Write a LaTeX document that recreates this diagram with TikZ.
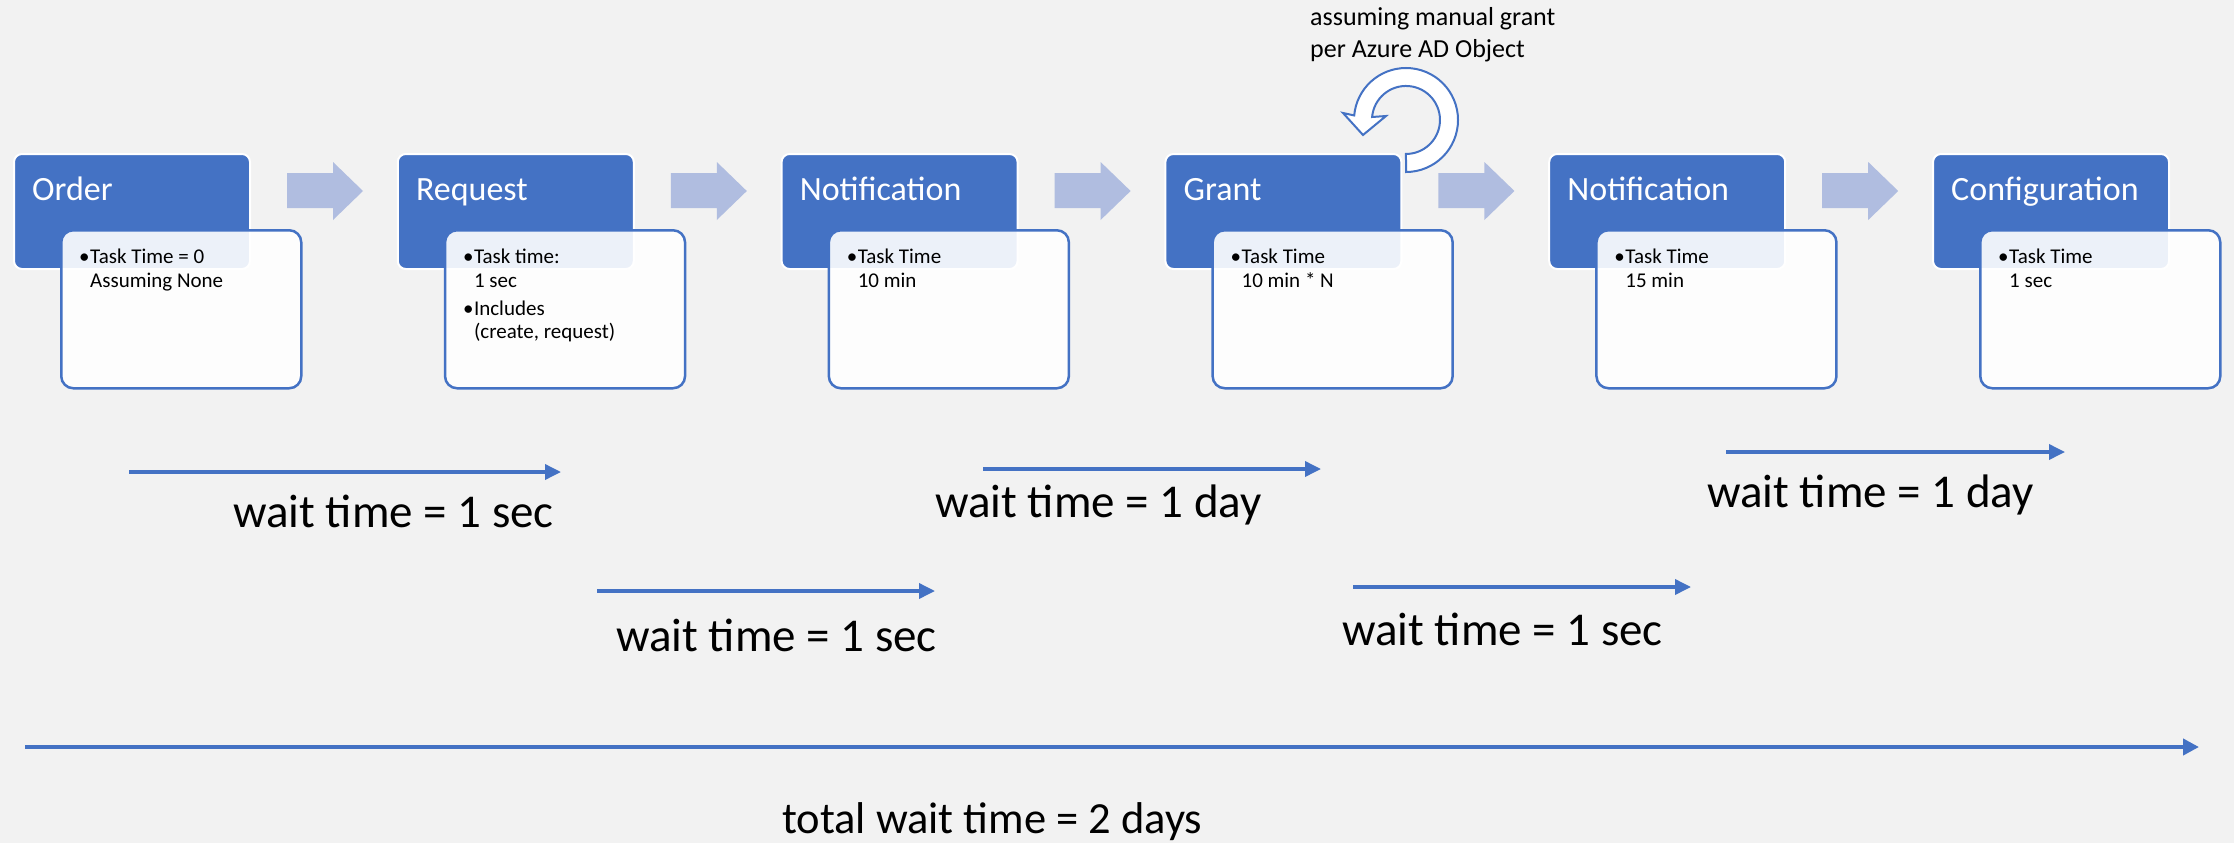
\documentclass[tikz,border=0pt]{standalone}
\usepackage{fontspec}
\setmainfont{Carlito}
\usetikzlibrary{arrows.meta}
\definecolor{accent}{RGB}{68,114,196}
\definecolor{paleblue}{RGB}{176,189,224}
\definecolor{canvas}{RGB}{242,242,242}
\tikzset{
  head/.style={fill=accent, draw=white, line width=2pt, rounded corners=8pt,
    anchor=north west, minimum width=236pt, minimum height=115pt, inner sep=0pt},
  card/.style={fill=white, fill opacity=0.9, draw=accent, line width=2.5pt,
    rounded corners=12pt, anchor=north west, minimum width=240pt,
    minimum height=158pt, inner sep=0pt},
  title/.style={text=white, font=\fontsize{34}{40}\selectfont, anchor=base west, inner sep=0pt},
  body/.style={font=\fontsize{21}{24}\selectfont, anchor=base west, inner sep=0pt},
  flow/.style={fill=paleblue},
  loop/.style={fill=white, draw=accent, line width=2pt, line join=miter},
  wait/.style={draw=accent, line width=3.5pt, -{Triangle[length=16pt,width=15pt]}},
  total/.style={draw=accent, line width=4pt, -{Triangle[length=16pt,width=16pt]}},
  waitlabel/.style={font=\fontsize{47}{56}\selectfont, anchor=base west, inner sep=0pt},
  totallabel/.style={font=\fontsize{44.5}{53}\selectfont, anchor=base west, inner sep=0pt},
  note/.style={font=\fontsize{26}{31}\selectfont, anchor=base west, inner sep=0pt},
}
\begin{document}
\begin{tikzpicture}[x=1pt,y=-1pt]
\fill[canvas] (0,0) rectangle (2234,843);
\useasboundingbox (0,0) rectangle (2234,843);

% process steps: header box, detail card, title
\foreach \i/\t in {0/Order,1/Request,2/Notification,3/Grant,4/Notification,5/Configuration}{
  \pgfmathsetmacro\x{13+383.8*\i}
  \node[head] (h\i) at (\x,153) {};
  \node[card] (c\i) at (\x+47,229) {};
  \node[title] (t\i) at (\x+19,200) {\t};
  \node[body] (d\i) at (\x+66,263) {\textbullet};
}

% detail texts
\node[body] (s0a) at (90,263) {Task Time = 0};
\node[body] (s0b) at (90,287) {Assuming None};

\node[body] (s1a) at (473.8,263) {Task time:};
\node[body] (s1b) at (473.8,287) {1 sec};
\node[body] (d1b) at (462.8,315) {\textbullet};
\node[body] (s1c) at (473.8,315) {Includes};
\node[body] (s1d) at (473.8,338) {(create, request)};

\node[body] (s2a) at (857.6,263) {Task Time};
\node[body] (s2b) at (857.6,287) {10 min};

\node[body] (s3a) at (1241.4,263) {Task Time};
\node[body] (s3b) at (1241.4,287) {10 min * N};

\node[body] (s4a) at (1625.2,263) {Task Time};
\node[body] (s4b) at (1625.2,287) {15 min};

\node[body] (s5a) at (2009,263) {Task Time};
\node[body] (s5b) at (2009,287) {1 sec};

% block arrows between the steps
\foreach \i in {0,...,4}{
  \pgfmathsetmacro\a{287+383.8*\i}
  \fill[flow] (\a,173) -- (\a+46,173) -- (\a+46,162) -- (\a+76,191)
    -- (\a+46,220) -- (\a+46,208) -- (\a,208) -- cycle;
}

% repeat loop above the grant step
\draw[loop] (1406,172) arc[start angle=90, end angle=-175, radius=52]
  -- (1343,113) -- (1363,135) -- (1386,116) -- (1372.1,117)
  arc[start angle=-175, end angle=90, radius=34] -- cycle;
\node[note] (cap1) at (1310,26) {assuming manual grant};
\node[note] (cap2) at (1310,57) {per Azure AD Object};

% wait times
\coordinate (a1) at (129,472);  \coordinate (b1) at (561,472);
\coordinate (a2) at (597,591);  \coordinate (b2) at (935,591);
\coordinate (a3) at (983,469);  \coordinate (b3) at (1321,469);
\coordinate (a4) at (1353,587); \coordinate (b4) at (1691,587);
\coordinate (a5) at (1726,452); \coordinate (b5) at (2065,452);
\coordinate (at) at (25,747);   \coordinate (bt) at (2199,747);
\draw[wait] (a1) -- (b1);
\draw[wait] (a2) -- (b2);
\draw[wait] (a3) -- (b3);
\draw[wait] (a4) -- (b4);
\draw[wait] (a5) -- (b5);
\draw[total] (at) -- (bt);

\node[waitlabel] (w1) at (233,527) {wait time = 1 sec};
\node[waitlabel] (w2) at (616,651) {wait time = 1 sec};
\node[waitlabel] (w3) at (935,517) {wait time = 1 day};
\node[waitlabel] (w4) at (1342,645) {wait time = 1 sec};
\node[waitlabel] (w5) at (1707,507) {wait time = 1 day};
\node[totallabel] (wt) at (782,833) {total wait time = 2 days};
\end{tikzpicture}
\end{document}
